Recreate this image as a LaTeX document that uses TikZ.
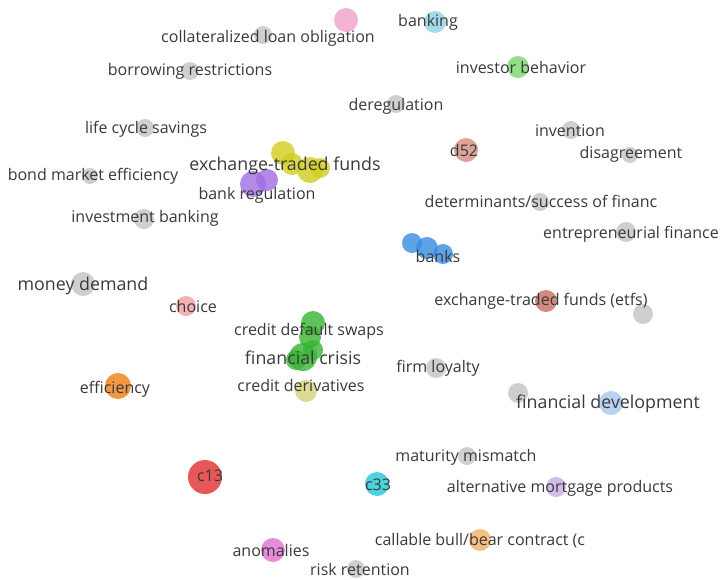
\documentclass[tikz,border=0pt]{standalone}
\usepackage{fontspec}
\setmainfont{Open Sans}
\definecolor{gry}{RGB}{196,196,196}
\definecolor{txt}{RGB}{58,58,58}
\definecolor{pnk}{RGB}{240,160,200}
\definecolor{cya}{RGB}{140,210,230}
\definecolor{grn}{RGB}{120,214,110}
\definecolor{sal}{RGB}{214,140,125}
\definecolor{yel}{RGB}{210,206,30}
\definecolor{pur}{RGB}{160,110,225}
\definecolor{blu}{RGB}{55,140,225}
\definecolor{ros}{RGB}{240,160,160}
\definecolor{brn}{RGB}{200,110,95}
\definecolor{dgr}{RGB}{55,180,50}
\definecolor{olv}{RGB}{210,210,120}
\definecolor{org}{RGB}{240,125,20}
\definecolor{lbl}{RGB}{165,200,240}
\definecolor{rd}{RGB}{225,45,45}
\definecolor{tea}{RGB}{30,200,215}
\definecolor{lav}{RGB}{200,170,225}
\definecolor{ora}{RGB}{242,178,100}
\definecolor{mag}{RGB}{225,110,210}
\begin{document}
\begin{tikzpicture}[x=1pt,y=-1pt,
  bubble/.style={circle,fill=#1,fill opacity=.8,inner sep=0pt},
  term/.style={text=txt,inner sep=0pt,font=\fontsize{16}{18}\selectfont},
  bigterm/.style={term,font=\fontsize{17.8}{20}\selectfont}]
\useasboundingbox (0,0) rectangle (721,579);
\fill[white] (0,0) rectangle (721,579);
            % Bubbles
\node[bubble=pnk,minimum size=24pt] (pk)   at (346,20)  {};
\node[bubble=gry,minimum size=18pt] (cdo)  at (263,35)  {};
\node[bubble=cya,minimum size=22pt] (bkg)  at (435,22)  {};
\node[bubble=gry,minimum size=18pt] (bor)  at (190,71)  {};
\node[bubble=grn,minimum size=22pt] (inv)  at (518,67)  {};
\node[bubble=gry,minimum size=18pt] (dereg) at (396,104) {};
\node[bubble=gry,minimum size=18pt] (lcs)  at (145,128) {};
\node[bubble=gry,minimum size=18pt] (invt) at (571,130) {};
\node[bubble=sal,minimum size=24pt] (d52)  at (466,150) {};
\node[bubble=gry,minimum size=16pt] (dis)  at (630,155) {};
\node[bubble=yel,minimum size=24pt] (etf1) at (283,153) {};
\node[bubble=yel,minimum size=22pt] (etf2) at (292,164) {};
\node[bubble=yel,minimum size=26pt] (etf3) at (310,170) {};
\node[bubble=yel,minimum size=20pt] (etf4) at (320,168) {};
\node[bubble=pur,minimum size=26pt] (reg1) at (253,184) {};
\node[bubble=pur,minimum size=22pt] (reg2) at (267,180) {};
\node[bubble=gry,minimum size=16pt] (bme)  at (90,176)  {};
\node[bubble=gry,minimum size=18pt] (det)  at (540,202) {};
\node[bubble=gry,minimum size=20pt] (ib)   at (144,219) {};
\node[bubble=gry,minimum size=20pt] (ent)  at (626,232) {};
\node[bubble=blu,minimum size=20pt] (bk1)  at (412,243) {};
\node[bubble=blu,minimum size=22pt] (bk2)  at (427,248) {};
\node[bubble=blu,minimum size=20pt] (bk3)  at (443,254) {};
\node[bubble=gry,minimum size=24pt] (md)   at (83,284)  {};
\node[bubble=ros,minimum size=20pt] (cho)  at (186,306) {};
\node[bubble=brn,minimum size=22pt] (etfs) at (546,301) {};
\node[bubble=gry,minimum size=20pt] (g1)   at (643,314) {};
\node[bubble=dgr,minimum size=24pt] (cds1) at (313,323) {};
\node[bubble=dgr,minimum size=22pt] (cds2) at (310,337) {};
\node[bubble=dgr,minimum size=28pt] (fc1)  at (303,357) {};
\node[bubble=dgr,minimum size=20pt] (fc2)  at (313,350) {};
\node[bubble=dgr,minimum size=20pt] (fc3)  at (296,360) {};
\node[bubble=olv,minimum size=22pt] (cd)   at (306,391) {};
\node[bubble=gry,minimum size=20pt] (fl)   at (436,368) {};
\node[bubble=org,minimum size=26pt] (eff)  at (118,386) {};
\node[bubble=gry,minimum size=20pt] (g2)   at (518,393) {};
\node[bubble=lbl,minimum size=24pt] (fd)   at (611,403) {};
\node[bubble=gry,minimum size=18pt] (mm)   at (467,456) {};
\node[bubble=rd,minimum size=34pt]  (c13)  at (205,477) {};
\node[bubble=tea,minimum size=24pt] (c33)  at (377,484) {};
\node[bubble=lav,minimum size=20pt] (amp)  at (556,487) {};
\node[bubble=ora,minimum size=22pt] (cbb)  at (480,540) {};
\node[bubble=mag,minimum size=24pt] (ano)  at (273,550) {};
\node[bubble=gry,minimum size=18pt] (rr)   at (356,569) {};
            % Labels
\node[term]    (cdo-l)   at (268,38)  {collateralized loan obligation};
\node[term]    (bkg-l)   at (428,22)  {banking};
\node[term]    (bor-l)   at (190,71)  {borrowing restrictions};
\node[term]    (inv-l)   at (521,67)  {investor behavior};
\node[term]    (dereg-l) at (396,106) {deregulation};
\node[term]    (lcs-l)   at (146,129) {life cycle savings};
\node[term]    (invt-l)  at (570,131) {invention};
\node[term]    (d52-l)   at (464,150) {d52};
\node[term]    (dis-l)   at (631,154) {disagreement};
\node[bigterm] (etf-l)   at (285,166) {exchange-traded funds};
\node[term]    (reg-l)   at (257,195) {bank regulation};
\node[term]    (bme-l)   at (93,176)  {bond market efficiency};
\node[term]    (det-l)   at (541,201) {determinants/success of financ};
\node[term]    (ib-l)    at (145,218) {investment banking};
\node[term]    (ent-l)   at (631,234) {entrepreneurial finance};
\node[term]    (bk-l)    at (438,256) {banks};
\node[bigterm] (md-l)    at (83,286)  {money demand};
\node[term]    (cho-l)   at (193,306) {choice};
\node[term]    (etfs-l)  at (541,301) {exchange-traded funds (etfs)};
\node[term]    (cds-l)   at (309,331) {credit default swaps};
\node[bigterm] (fc-l)    at (303,358) {financial crisis};
\node[term]    (cd-l)    at (301,385) {credit derivatives};
\node[term]    (fl-l)    at (438,368) {firm loyalty};
\node[term]    (eff-l)   at (115,389) {efficiency};
\node[bigterm] (fd-l)    at (608,404) {financial development};
\node[term]    (mm-l)    at (466,457) {maturity mismatch};
\node[term]    (c13-l)   at (210,476) {c13};
\node[term]    (c33-l)   at (378,485) {c33};
\node[term]    (amp-l)   at (560,488) {alternative mortgage products};
\node[term]    (cbb-l)   at (480,541) {callable bull/bear contract (c};
\node[term]    (ano-l)   at (271,550) {anomalies};
\node[term]    (rr-l)    at (360,569) {risk retention};
\end{tikzpicture}
\end{document}
